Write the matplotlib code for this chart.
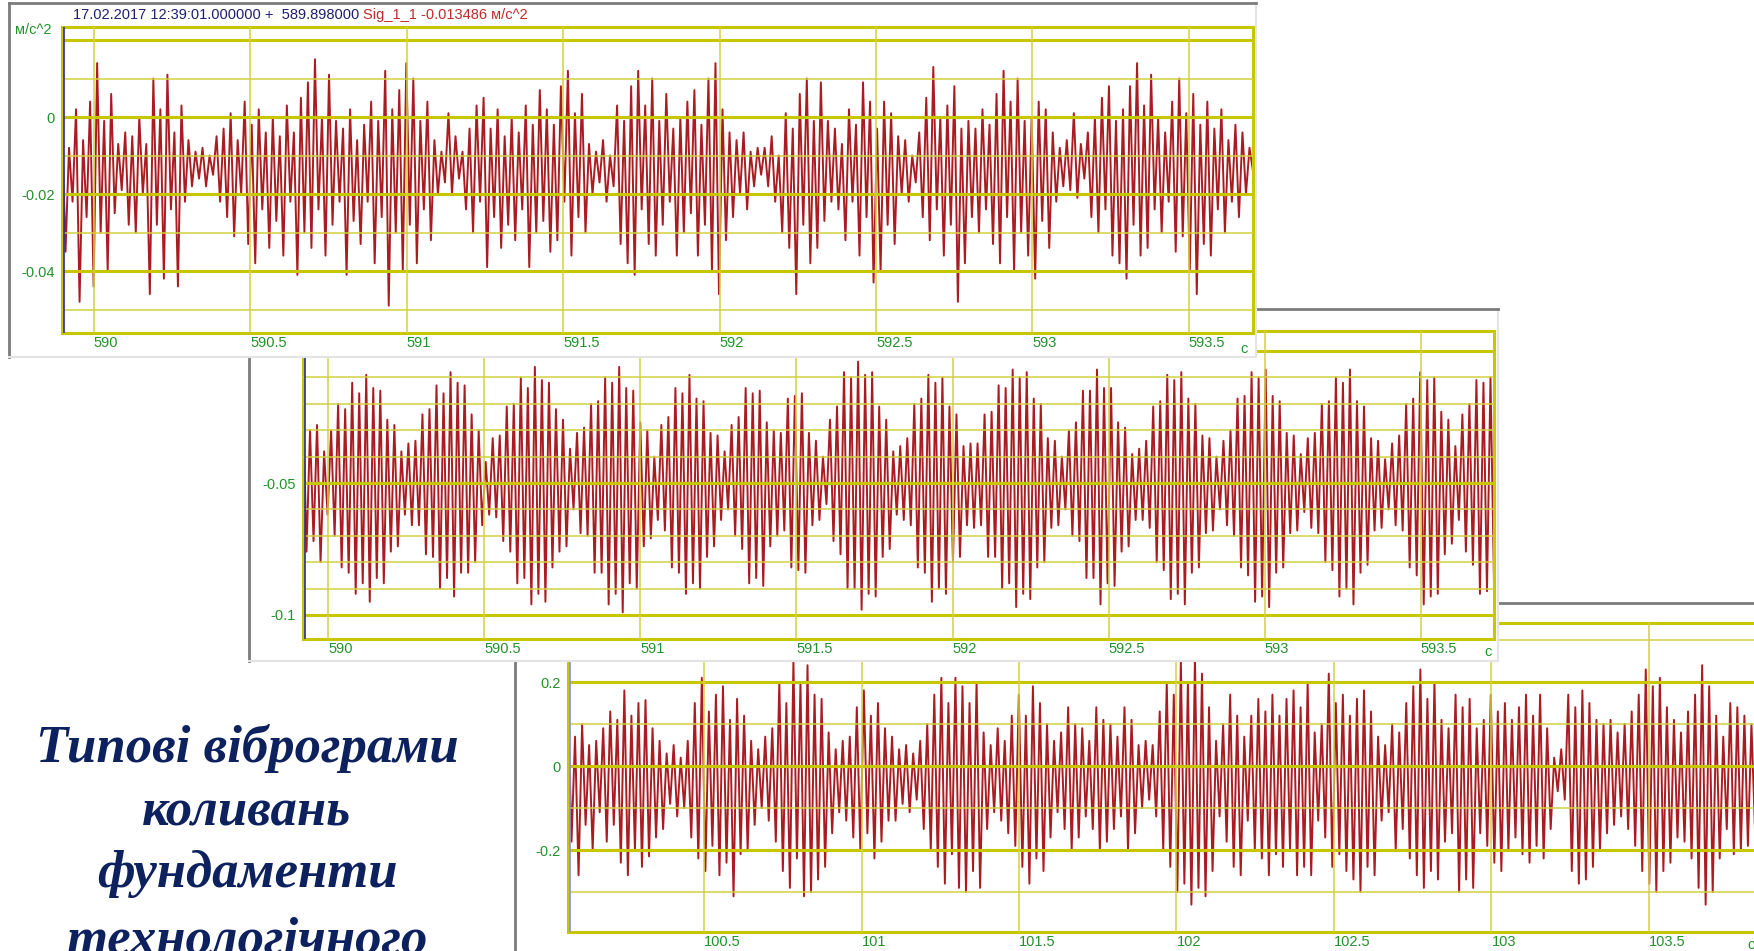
import numpy as np
import matplotlib.pyplot as plt

W, H = 1754, 951

# --- recorded signals, thousandths of m/s^2, upper and lower swing of each cycle ---
p1_hi = [
    -2, -8, 2, -6, 4, 14, -1, 6, -7, -4,
    -5, 0, -7, 10, 2, 11, -4, 3, -6, -9,
    -8, -10, -5, -3, 1, -6, 4, -2, 2, -4,
    0, -5, 3, -4, 5, 9, 15, 0, 11, -1,
    -3, 2, -6, -2, 4, -1, 12, 2, 7, 14,
    10, -1, 4, -6, -9, 1, -5, -9, -3, 3,
    5, -3, 2, -5, 0, -4, 3, -2, 7, 2,
    -2, 8, 12, 1, 6, -7, -9, -6, -10, 3,
    -1, 8, 12, 3, 10, -1, 6, -3, 0, 4,
    7, -2, 10, 14, 2, -4, -6, -4, -9, -8,
    -8, -5, -10, 1, -3, 6, 10, -1, 9, -1,
    -3, -7, 2, -2, 9, 4, -3, 4, 1, -5,
    -6, -10, -4, 5, 13, 0, 3, 8, -3, -1,
    -3, 2, -2, 6, 12, 4, 10, -1, 0, 4,
    2, -4, -8, -6, 1, -7, -4, 0, 5, 8,
    -1, 2, 8, 14, 3, 11, 0, -4, 4, 10,
    1, 6, -2, 4, -3, 2, -6, -2, -4, -8,
]
p1_lo = [
    -35, -22, -48, -26, -44, -30, -40, -25, -19, -28,
    -30, -20, -46, -28, -42, -24, -44, -22, -18, -16,
    -18, -15, -22, -26, -31, -20, -33, -38, -24, -34,
    -27, -36, -22, -41, -30, -34, -24, -36, -28, -22,
    -41, -27, -33, -22, -38, -26, -49, -30, -40, -28,
    -38, -24, -32, -20, -17, -20, -16, -24, -30, -22,
    -39, -26, -34, -28, -32, -24, -39, -30, -27, -35,
    -32, -22, -36, -26, -30, -20, -17, -22, -18, -33,
    -38, -41, -24, -33, -36, -28, -22, -36, -30, -25,
    -36, -28, -40, -46, -32, -26, -20, -24, -18, -15,
    -18, -22, -30, -34, -46, -28, -38, -34, -27, -22,
    -24, -32, -22, -36, -26, -43, -40, -28, -33, -20,
    -22, -17, -26, -32, -24, -36, -28, -48, -38, -26,
    -30, -24, -33, -38, -26, -40, -30, -36, -42, -27,
    -34, -22, -18, -19, -21, -16, -26, -30, -24, -36,
    -38, -42, -28, -36, -34, -24, -30, -22, -35, -31,
    -40, -46, -33, -36, -24, -30, -22, -26, -20, -14,
]

p2_hi = [
    -18, -30, -28, -38, -30, -20, -22, -12, -16, -9, -14, -15,
    -26, -28, -38, -35, -34, -24, -22, -13, -16, -8, -12, -13,
    -24, -30, -42, -33, -32, -21, -20, -10, -14, -6, -11, -12,
    -22, -26, -37, -31, -29, -20, -19, -10, -12, -6, -14, -15,
    -27, -30, -40, -28, -25, -14, -16, -9, -18, -19, -31, -32,
    -38, -28, -25, -14, -16, -15, -27, -30, -31, -18, -17, -16,
    -31, -34, -40, -26, -21, -8, -10, -4, -9, -8, -21, -26,
    -38, -36, -33, -20, -18, -9, -12, -10, -21, -24, -36, -35,
    -35, -24, -23, -13, -14, -7, -10, -8, -18, -20, -33, -34,
    -40, -30, -27, -15, -15, -7, -14, -14, -27, -29, -39, -37,
    -34, -21, -19, -9, -11, -8, -18, -20, -32, -33, -40, -34,
    -30, -18, -17, -8, -10, -7, -17, -19, -31, -32, -39, -33,
    -31, -20, -19, -10, -12, -7, -19, -21, -33, -34, -41, -35,
    -32, -20, -18, -8, -11, -10, -23, -26, -36, -24, -20, -11, -12, -10,
]
p2_lo = [
    -76, -72, -80, -62, -70, -82, -84, -92, -88, -95, -86, -88,
    -76, -74, -62, -66, -66, -77, -78, -90, -86, -93, -84, -84,
    -80, -66, -62, -63, -72, -76, -88, -86, -96, -92, -95, -82,
    -76, -74, -60, -69, -70, -84, -84, -96, -92, -99, -88, -90,
    -74, -71, -64, -68, -82, -84, -92, -88, -90, -78, -74, -64,
    -60, -70, -75, -88, -86, -89, -74, -70, -68, -82, -83, -84,
    -66, -64, -58, -72, -77, -90, -90, -98, -92, -93, -78, -75,
    -62, -64, -66, -82, -84, -95, -90, -92, -80, -78, -66, -67,
    -66, -78, -78, -90, -88, -97, -92, -94, -82, -80, -67, -66,
    -60, -70, -72, -86, -86, -96, -88, -89, -76, -74, -64, -64,
    -67, -80, -83, -94, -92, -96, -84, -82, -69, -68, -60, -66,
    -70, -82, -85, -95, -93, -97, -84, -82, -69, -68, -61, -67,
    -69, -80, -83, -93, -90, -96, -84, -81, -68, -67, -60, -66,
    -68, -82, -85, -96, -93, -92, -77, -73, -64, -76, -81, -92, -91, -88,
]

p3_hi = [
    150, 70, 100, 50, 60, 90, 130, 110, 180, 120,
    150, 157, 90, 60, 30, 50, 20, 60, 150, 210,
    130, 170, 190, 110, 160, 120, 60, 40, 70, 90,
    200, 150, 250, 200, 240, 170, 160, 80, 40, 60,
    70, 140, 180, 120, 150, 90, 70, 40, 50, 30,
    60, 100, 170, 210, 150, 210, 190, 150, 200, 80,
    50, 90, 60, 120, 170, 120, 190, 150, 100, 60,
    80, 140, 100, 90, 60, 140, 110, 100, 70, 140,
    110, 50, 60, 50, 130, 200, 170, 250, 200, 260,
    220, 140, 60, 100, 170, 120, 70, 120, 160, 130,
    170, 120, 160, 180, 140, 200, 80, 100, 220, 150,
    170, 120, 160, 180, 130, 70, 50, 100, 80, 150,
    190, 230, 160, 200, 110, 90, 170, 140, 160, 90,
    110, 170, 130, 150, 110, 140, 170, 120, 170, 90,
    20, 40, 170, 140, 180, 150, 110, 100, 110, 80,
    100, 130, 170, 230, 190, 210, 140, 110, 80, 130,
    170, 240, 190, 120, 70, 150, 140, 120, 100, 90,
]
p3_lo = [
    -180, -260, -140, -200, -110, -180, -140, -230, -260, -200,
    -240, -215, -170, -150, -90, -120, -100, -170, -220, -250,
    -190, -260, -230, -310, -210, -200, -140, -100, -130, -180,
    -250, -290, -220, -310, -300, -270, -240, -160, -110, -130,
    -170, -200, -160, -220, -180, -130, -130, -90, -110, -80,
    -150, -200, -240, -280, -210, -290, -300, -250, -290, -150,
    -110, -130, -160, -190, -240, -280, -220, -250, -170, -110,
    -150, -200, -170, -120, -150, -200, -180, -150, -120, -200,
    -160, -100, -80, -120, -200, -240, -300, -280, -330, -290,
    -310, -250, -120, -180, -240, -260, -130, -200, -220, -260,
    -210, -240, -200, -260, -240, -260, -130, -170, -240, -210,
    -250, -270, -300, -240, -260, -130, -110, -200, -150, -220,
    -260, -290, -250, -270, -180, -160, -300, -270, -290, -160,
    -190, -230, -250, -200, -170, -210, -230, -190, -220, -150,
    -60, -80, -250, -280, -270, -240, -200, -160, -140, -120,
    -150, -190, -250, -280, -300, -250, -230, -170, -180, -220,
    -290, -330, -300, -220, -150, -210, -200, -190, -150, -140,
]

# recording windows, s
p1_span = (589.898, 593.705)
p2_span = (589.920, 593.734)
p3_span = (100.068, 103.859)

p1_xt = [590, 590.5, 591, 591.5, 592, 592.5, 593, 593.5]
p2_xt = [590, 590.5, 591, 591.5, 592, 592.5, 593, 593.5]
p3_xt = [100.5, 101, 101.5, 102, 102.5, 103, 103.5]

p1_yt, p1_ylab = [0, -0.02, -0.04], ["0", "-0.02", "-0.04"]
p2_yt, p2_ylab = [-0.05, -0.1], ["-0.05", "-0.1"]
p3_yt, p3_ylab = [0.2, 0, -0.2], ["0.2", "0", "-0.2"]

caption = ["Типові віброграми", "коливань", "фундаменти", "технологічного"]

THICK = "#c8c600"
THIN = "#d3d140"
RED = "#aa1c22"
GREEN = "#23912a"

plt.rcParams["font.family"] = ["Liberation Sans", "DejaVu Sans"]


def box(x0, y0, x1, y1):
    return [x0 / W, 1 - y1 / H, (x1 - x0) / W, (y1 - y0) / H]


def window_frame(fig, rect):
    ax = fig.add_axes(box(*rect))
    ax.set_facecolor("white")
    ax.set_xticks([])
    ax.set_yticks([])
    for side in ("left", "top"):
        ax.spines[side].set_color("#7c7c7c")
        ax.spines[side].set_linewidth(2.0)
    for side in ("right", "bottom"):
        ax.spines[side].set_color("#e4e4e4")
        ax.spines[side].set_linewidth(1.5)
    return ax


def scope(fig, rect, span, ylim, hi, lo, major_y, minor_y, xt, yt, ylab, blue):
    ax = fig.add_axes(box(*rect))
    ax.set_facecolor("none")
    sig = np.empty(2 * len(hi))
    sig[0::2] = hi
    sig[1::2] = lo
    sig = sig / 1000.0
    t = np.linspace(span[0], span[1], sig.size)
    ax.plot(t, sig, color=RED, lw=1.4, zorder=2)

    # grid is drawn over the trace
    for y in minor_y:
        ax.axhline(y, color=THIN, lw=1.1, zorder=3)
    for y in major_y:
        ax.axhline(y, color=THICK, lw=2.2, zorder=3)
    for x in xt:
        ax.axvline(x, color=THIN, lw=1.1, zorder=3)

    ax.set_xlim(span)
    ax.set_ylim(ylim)
    sec_per_px = (span[1] - span[0]) / (rect[2] - rect[0])
    ax.axvline(span[0] + 2 * sec_per_px, color=blue, lw=1.2, zorder=4)

    ax.set_xticks(xt, [f"{v:g}" for v in xt])
    ax.set_yticks(yt, ylab)
    for lbl in ax.get_xticklabels():
        lbl.set_ha("left")
    ax.tick_params(axis="x", length=0, pad=2, labelsize=10.5, labelcolor=GREEN)
    ax.tick_params(axis="y", length=0, pad=5, labelsize=10.5, labelcolor=GREEN)
    for s in ax.spines.values():
        s.set_color(THICK)
        s.set_linewidth(2.2)
    return ax


def px_text(fig, x, y, s, **kw):
    return fig.text(x / W, 1 - y / H, s, **kw)


fig = plt.figure(figsize=(W / 100, H / 100), dpi=100)
fig.patch.set_facecolor("white")

# bottom window
window_frame(fig, (515, 603, 1800, 1000))
scope(fig, (568, 623, 1762, 932), p3_span, (-0.395, 0.3405), p3_hi, p3_lo,
      [0.2, 0, -0.2], [0.3, 0.1, -0.1, -0.3], p3_xt, p3_yt, p3_ylab, "#8c8cf0")
px_text(fig, 1751, 945, "с", color=GREEN, fontsize=10.5, ha="center", va="center")

# middle window
window_frame(fig, (249, 309, 1498, 661))
scope(fig, (303, 331, 1494, 639), p2_span, (-0.1091, 0.0076), p2_hi, p2_lo,
      [0, -0.05, -0.1],
      [-0.01, -0.02, -0.03, -0.04, -0.06, -0.07, -0.08, -0.09],
      p2_xt, p2_yt, p2_ylab, "#2a2aa8")
px_text(fig, 1488, 652, "с", color=GREEN, fontsize=10.5, ha="center", va="center")

# top window
window_frame(fig, (9, 3, 1256, 357))
scope(fig, (62, 27, 1253, 333), p1_span, (-0.0561, 0.02338), p1_hi, p1_lo,
      [0.02, 0, -0.02, -0.04], [0.01, -0.01, -0.03, -0.05],
      p1_xt, p1_yt, p1_ylab, "#2a2aa8")
px_text(fig, 1244, 349, "с", color=GREEN, fontsize=10.5, ha="center", va="center")
px_text(fig, 15, 30, "м/с^2", color=GREEN, fontsize=10.5, ha="left", va="center")
stamp = px_text(fig, 73, 15, "17.02.2017 12:39:01.000000 +  589.898000",
                color="#1e1e70", fontsize=10.5, ha="left", va="center")
bb = stamp.get_window_extent(fig.canvas.get_renderer())
fig.text((bb.x1 + 4) / W, 1 - 15 / H, "Sig_1_1 -0.013486 м/с^2",
         color="#c02a2a", fontsize=10.5, ha="left", va="center")

# caption
for y, line in zip([762, 825, 887, 953], caption):
    px_text(fig, 247, y, line, color="#0d215e", fontsize=38,
            family=["Liberation Serif", "DejaVu Serif"], weight="bold",
            style="italic", ha="center", va="baseline")

fig.savefig("out.png", dpi=100, facecolor="white")
